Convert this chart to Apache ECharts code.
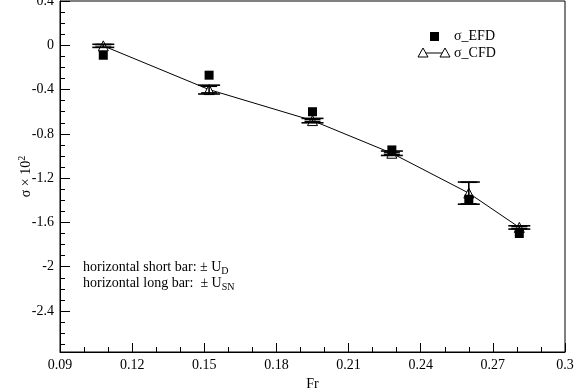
<!DOCTYPE html>
<html>
<head>
<meta charset="utf-8">
<script src="https://cdn.jsdelivr.net/npm/echarts@6/dist/echarts.min.js"></script>
<style>
  html, body { margin: 0; padding: 0; background: #fff; }
  #chart { width: 587px; height: 391px; }
</style>
</head>
<body>
<div id="chart"></div>
<script>
// Froude numbers
const fr = [0.108, 0.152, 0.195, 0.228, 0.260, 0.281]
// sigma x 10^2
const sigmaEFD = [-0.09, -0.27, -0.60, -0.945, -1.39, -1.70]
const sigmaCFD = [-0.005, -0.40, -0.68, -0.975, -1.335, -1.645]
// uncertainties drawn round the CFD values
const uD = [0.012, 0.03, 0.01, 0.01, 0.098, 0.01]
const uSN = [0.014, 0.04, 0.02, 0.02, 0.1, 0.015]

const yMajor = [0.4, 0, -0.4, -0.8, -1.2, -1.6, -2, -2.4]
const yMinor = []
for (let v = 3; v >= -27; v--) {
  if (v % 4 !== 0) yMinor.push(v / 10)
}

const FONT = 'Liberation Serif'
const Y_MIN = -2.77
const Y_MAX = 0.4

const chart = echarts.init(document.getElementById('chart'))

const errData = fr.map((x, i) => [x, sigmaCFD[i], uD[i], uSN[i]])

const renderErr = (params, api) => {
  const x = api.value(0)
  const y = api.value(1)
  const cx = api.coord([x, y])[0]
  const sTop = api.coord([x, y + api.value(3)])[1]
  const sBot = api.coord([x, y - api.value(3)])[1]
  const dTop = api.coord([x, y + api.value(2)])[1]
  const dBot = api.coord([x, y - api.value(2)])[1]
  const style = { stroke: '#000', lineWidth: 1.6 }
  const seg = (x1, y1, x2, y2) => ({ type: 'line', shape: { x1, y1, x2, y2 }, style })
  return {
    type: 'group',
    children: [
      seg(cx, sTop, cx, sBot),
      seg(cx - 11, sTop, cx + 11, sTop),
      seg(cx - 11, sBot, cx + 11, sBot),
      seg(cx - 8, dTop, cx + 8, dTop),
      seg(cx - 8, dBot, cx + 8, dBot),
    ],
  }
}

const tickBase = { show: true, inside: true, lineStyle: { color: '#000', width: 1 } }

chart.setOption({
  backgroundColor: '#fff',
  animation: false,
  textStyle: { fontFamily: FONT },
  grid: {
    left: 60, right: 22, top: 1, bottom: 39,
    containLabel: false,
    outerBoundsMode: 'none',
    show: true, borderColor: '#000', borderWidth: 1,
  },
  xAxis: {
    type: 'value',
    min: 0.09, max: 0.3, interval: 0.03,
    name: 'Fr', nameLocation: 'middle', nameGap: 18,
    nameTextStyle: { fontFamily: FONT, fontSize: 14, color: '#000' },
    axisLine: { show: true, onZero: false, lineStyle: { color: '#000', width: 1 } },
    axisTick: { ...tickBase, length: 9 },
    minorTick: { show: true, splitNumber: 3, length: 5, lineStyle: { color: '#000', width: 1 } },
    splitLine: { show: false },
    axisLabel: { fontFamily: FONT, fontSize: 14, color: '#000', margin: 6 },
  },
  yAxis: [
    {
      type: 'value',
      min: Y_MIN, max: Y_MAX,
      name: '{a|σ × 10}{s|2}', nameLocation: 'middle', nameGap: 25,
      nameMoveOverlap: false,
      nameRotate: 90,
      nameTextStyle: {
        rich: {
          a: { fontFamily: FONT, fontSize: 14, color: '#000' },
          s: { fontFamily: FONT, fontSize: 10, color: '#000', padding: [0, 0, 8, 0] },
        },
      },
      axisLine: { show: true, onZero: false, lineStyle: { color: '#000', width: 1 } },
      axisTick: { ...tickBase, length: 10, customValues: yMajor },
      splitLine: { show: false },
      axisLabel: {
        fontFamily: FONT, fontSize: 14, color: '#000', margin: 6,
        customValues: yMajor,
        formatter: (v) => String(Math.round(v * 10) / 10),
      },
    },
    {
      type: 'value',
      position: 'left',
      min: Y_MIN, max: Y_MAX,
      axisLine: { show: false, onZero: false },
      axisTick: { ...tickBase, length: 5, customValues: yMinor },
      axisLabel: { show: false, customValues: yMinor },
      splitLine: { show: false },
    },
  ],
  series: [
    {
      name: 'σ_CFD',
      type: 'line',
      data: fr.map((x, i) => [x, sigmaCFD[i]]),
      symbol: 'triangle',
      symbolSize: 10,
      showAllSymbol: true,
      lineStyle: { color: '#000', width: 1 },
      itemStyle: { color: '#fff', borderColor: '#000', borderWidth: 1, opacity: 1 },
      z: 3,
    },
    {
      name: 'errors',
      type: 'custom',
      data: errData,
      renderItem: renderErr,
      z: 4,
    },
    {
      name: 'σ_EFD',
      type: 'scatter',
      data: fr.map((x, i) => [x, sigmaEFD[i]]),
      symbol: 'rect',
      symbolSize: 9,
      itemStyle: { color: '#000', opacity: 1 },
      z: 5,
    },
  ],
  graphic: [
    { type: 'rect', shape: { x: 430, y: 32, width: 9, height: 9 }, style: { fill: '#000' } },
    { type: 'text', x: 454, y: 36, style: { text: 'σ_EFD', font: '14px ' + FONT, fill: '#000', verticalAlign: 'middle' } },
    { type: 'line', shape: { x1: 423, y1: 53, x2: 445, y2: 53 }, style: { stroke: '#000', lineWidth: 1 } },
    { type: 'polygon', shape: { points: [[423, 48], [418, 57], [428, 57]] }, style: { fill: '#fff', stroke: '#000', lineWidth: 1 } },
    { type: 'polygon', shape: { points: [[445, 48], [440, 57], [450, 57]] }, style: { fill: '#fff', stroke: '#000', lineWidth: 1 } },
    { type: 'text', x: 454, y: 53, style: { text: 'σ_CFD', font: '14px ' + FONT, fill: '#000', verticalAlign: 'middle' } },
    {
      type: 'text', x: 83, y: 267,
      style: {
        text: '{a|horizontal short bar: ± U}{s|D}',
        verticalAlign: 'middle',
        rich: {
          a: { fontFamily: FONT, fontSize: 14, fill: '#000' },
          s: { fontFamily: FONT, fontSize: 10, fill: '#000', padding: [8, 0, 0, 0] },
        },
      },
    },
    {
      type: 'text', x: 83, y: 283,
      style: {
        text: '{a|horizontal long bar:  ± U}{s|SN}',
        verticalAlign: 'middle',
        rich: {
          a: { fontFamily: FONT, fontSize: 14, fill: '#000' },
          s: { fontFamily: FONT, fontSize: 10, fill: '#000', padding: [8, 0, 0, 0] },
        },
      },
    },
  ],
})
</script>
</body>
</html>
